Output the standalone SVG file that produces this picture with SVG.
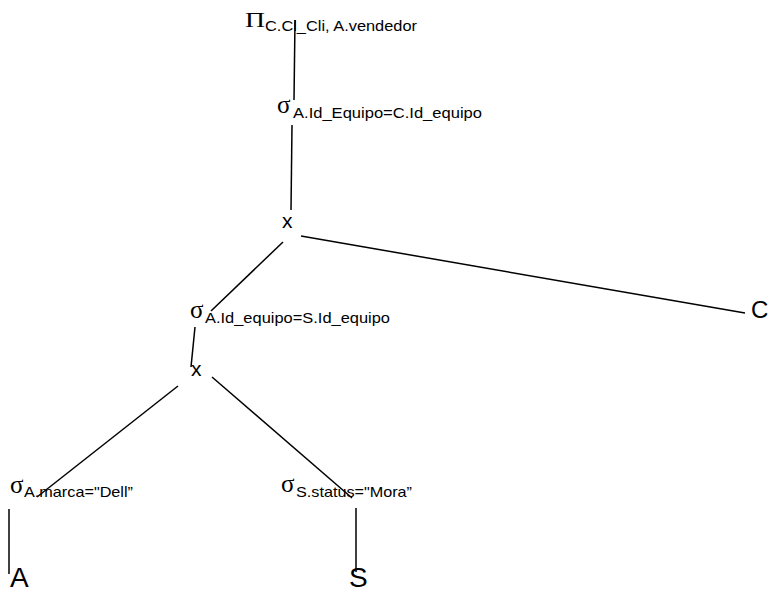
<svg xmlns="http://www.w3.org/2000/svg" width="771" height="592" viewBox="0 0 771 592">
<style>
.bg{fill:#fff}
.ln{stroke:#000;stroke-width:1.5;fill:none}
.op{font-family:"Liberation Serif","Times New Roman",serif;font-size:25px;fill:#000}
.sub{font-family:"Liberation Sans",Arial,sans-serif;font-size:14.5px;fill:#000}
.big{font-family:"Liberation Sans",Arial,sans-serif;fill:#000}
</style>
<rect class="bg" x="0" y="0" width="771" height="592"/>
<g id="connectors">
<line class="ln" x1="295" y1="20" x2="294" y2="100"/>
<line class="ln" x1="292" y1="125" x2="291" y2="210"/>
<line class="ln" x1="301" y1="236" x2="745" y2="313"/>
<line class="ln" x1="283" y1="242" x2="211" y2="311"/>
<line class="ln" x1="195" y1="327" x2="191" y2="367"/>
<line class="ln" x1="178" y1="386" x2="37" y2="497"/>
<line class="ln" x1="212" y1="377" x2="352" y2="498"/>
<line class="ln" x1="9" y1="509" x2="9" y2="574"/>
<line class="ln" x1="356" y1="508" x2="356" y2="572"/>
</g>
<g id="projection">
<text class="op" x="245" y="27" style="font-size:21px" textLength="20" lengthAdjust="spacingAndGlyphs">Π</text>
<text class="sub" x="265" y="31" textLength="152" lengthAdjust="spacingAndGlyphs">C.Cl_Cli, A.vendedor</text>
</g>
<g id="select-join-c">
<text class="op" x="277" y="113">σ</text>
<text class="sub" x="293" y="118" textLength="189" lengthAdjust="spacingAndGlyphs">A.Id_Equipo=C.Id_equipo</text>
</g>
<g id="product-top">
<text class="big" x="282" y="228" font-size="21">x</text>
</g>
<g id="relation-c">
<text class="big" x="751" y="318" font-size="24">C</text>
</g>
<g id="select-join-s">
<text class="op" x="190" y="318">σ</text>
<text class="sub" x="205" y="323" textLength="185" lengthAdjust="spacingAndGlyphs">A.Id_equipo=S.Id_equipo</text>
</g>
<g id="product-bottom">
<text class="big" x="191" y="376" font-size="21">x</text>
</g>
<g id="select-marca">
<text class="op" x="10" y="493">σ</text>
<text class="sub" x="24" y="497" textLength="109" lengthAdjust="spacingAndGlyphs">A.marca="Dell”</text>
</g>
<g id="select-status">
<text class="op" x="281" y="492">σ</text>
<text class="sub" x="296" y="497" textLength="116" lengthAdjust="spacingAndGlyphs">S.status="Mora”</text>
</g>
<g id="relation-a">
<text class="big" x="10" y="587" font-size="28">A</text>
</g>
<g id="relation-s">
<text class="big" x="349" y="587" font-size="28">S</text>
</g>
</svg>
